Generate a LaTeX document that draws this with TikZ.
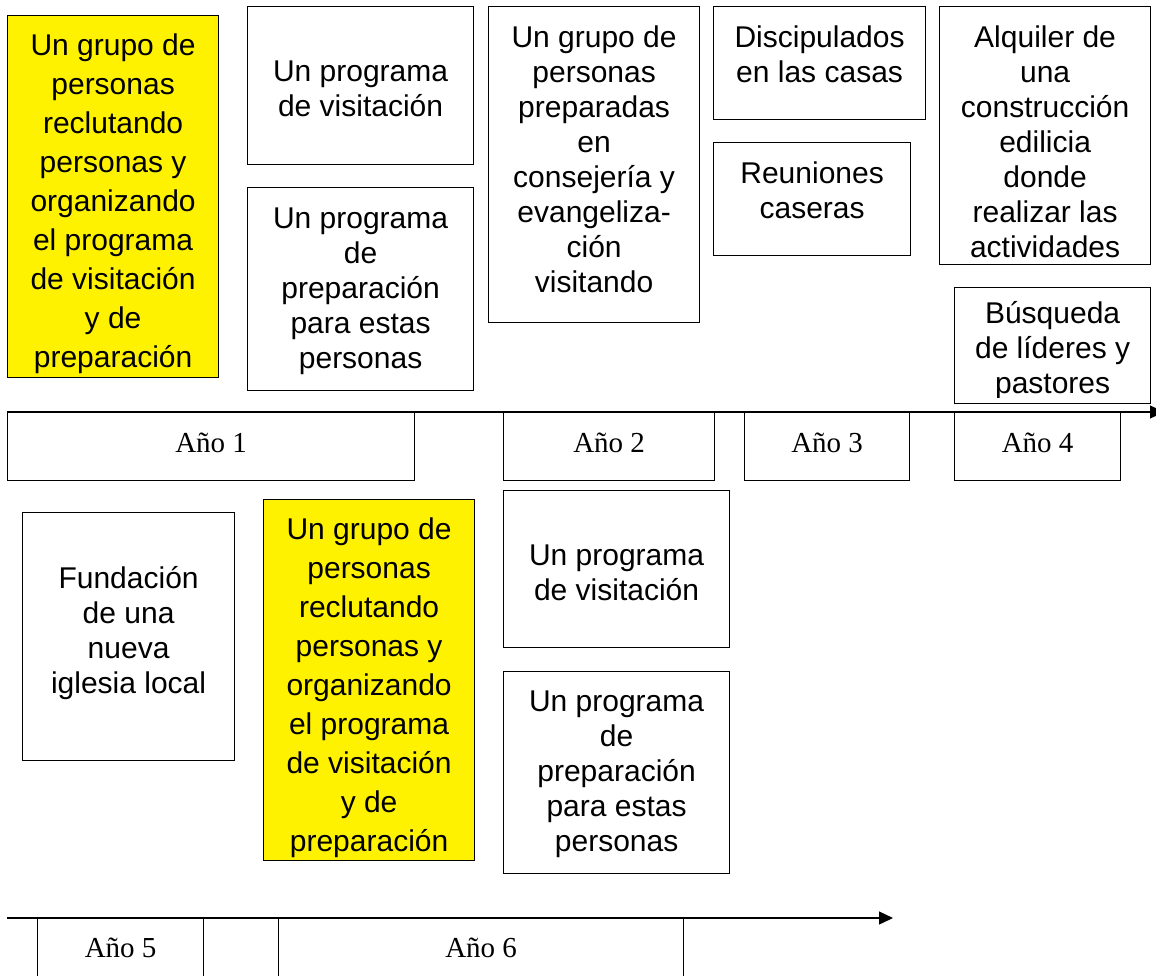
\documentclass[tikz,border=0pt]{standalone}
\usepackage{fontspec}
\setmainfont{Liberation Sans}
\newfontfamily\timesfont{Liberation Serif}
\usetikzlibrary{positioning,arrows.meta}

\begin{document}
\begin{tikzpicture}[x=1pt,y=-1pt,>={Triangle[length=14pt,width=13pt]},line width=1.2pt,
            box/.style={draw,rectangle,anchor=north west,inner sep=0pt},
            hi box/.style={box,fill=yellow},
            txt/.style={align=center,inner sep=0pt,font=\fontsize{30}{35}\selectfont},
            hi txt/.style={txt,font=\fontsize{30}{39}\selectfont},
            year/.style={inner sep=0pt,font=\timesfont\fontsize{29}{34}\selectfont}]
            \useasboundingbox (0,0) rectangle (1156,975);
            \clip (0,0) rectangle (1156,975);
            \coordinate (s1) at (7,412);
            \coordinate (e1) at (1164,412);
            \coordinate (s2) at (7,918);
            \coordinate (e2) at (893,918);
            \draw[->] (s1) -- (e1);
            \draw[->] (s2) -- (e2);
            \node[hi box, minimum width=211pt, minimum height=362pt] (1) at (7,15) {};
            \node[box, minimum width=226pt, minimum height=158pt] (2) at (247,6) {};
            \node[box, minimum width=226pt, minimum height=203pt] (3) at (247,187) {};
            \node[box, minimum width=211pt, minimum height=316pt] (4) at (488,6) {};
            \node[box, minimum width=212pt, minimum height=113pt] (5) at (713,6) {};
            \node[box, minimum width=197pt, minimum height=113pt] (6) at (713,142) {};
            \node[box, minimum width=211pt, minimum height=258pt] (7) at (939,6) {};
            \node[box, minimum width=196pt, minimum height=116pt] (8) at (954,287) {};
            \node[hi txt, below=18pt of 1.north] (t1) {Un grupo de\\personas\\reclutando\\personas y\\organizando\\el programa\\de visitación\\y de\\preparación};
            \node[txt, below=54pt of 2.north] (t2) {Un programa\\de visitación};
            \node[txt, below=20pt of 3.north] (t3) {Un programa\\de\\preparación\\para estas\\personas};
            \node[txt, below=19pt of 4.north] (t4) {Un grupo de\\personas\\preparadas\\en\\consejería y\\evangeliza-\\ción\\visitando};
            \node[txt, below=19pt of 5.north] (t5) {Discipulados\\en las casas};
            \node[txt, below=19pt of 6.north] (t6) {Reuniones\\caseras};
            \node[txt, below=19pt of 7.north] (t7) {Alquiler de\\una\\construcción\\edilicia\\donde\\realizar las\\actividades};
            \begin{scope}
            \clip (8.north west) rectangle ([yshift=7pt]8.south east);
            \node[txt, below=14pt of 8.north] (t8) {Búsqueda\\de líderes y\\pastores};
            \end{scope}
            \node[box, minimum width=407pt, minimum height=68pt] (a1) at (7,412) {};
            \node[box, minimum width=211pt, minimum height=68pt] (a2) at (503,412) {};
            \node[box, minimum width=165pt, minimum height=68pt] (a3) at (744,412) {};
            \node[box, minimum width=166pt, minimum height=68pt] (a4) at (954,412) {};
            \node[year, below=20pt of a1.north] (y1) {Año 1};
            \node[year, below=20pt of a2.north] (y2) {Año 2};
            \node[year, below=20pt of a3.north] (y3) {Año 3};
            \node[year, below=20pt of a4.north] (y4) {Año 4};
            \node[box, minimum width=212pt, minimum height=248pt] (9) at (22,512) {};
            \node[hi box, minimum width=211pt, minimum height=361pt] (10) at (263,499) {};
            \node[box, minimum width=226pt, minimum height=157pt] (11) at (503,490) {};
            \node[box, minimum width=226pt, minimum height=202pt] (12) at (503,671) {};
            \node[txt, below=54pt of 9.north] (t9) {Fundación\\de una\\nueva\\iglesia local};
            \node[hi txt, below=18pt of 10.north] (t10) {Un grupo de\\personas\\reclutando\\personas y\\organizando\\el programa\\de visitación\\y de\\preparación};
            \node[txt, below=54pt of 11.north] (t11) {Un programa\\de visitación};
            \node[txt, below=19pt of 12.north] (t12) {Un programa\\de\\preparación\\para estas\\personas};
            \node[box, minimum width=166pt, minimum height=72pt] (a5) at (37,918) {};
            \node[box, minimum width=75pt, minimum height=72pt] (a0) at (203,918) {};
            \node[box, minimum width=405pt, minimum height=72pt] (a6) at (278,918) {};
            \node[year, below=19pt of a5.north] (y5) {Año 5};
            \node[year, below=19pt of a6.north] (y6) {Año 6};
        \end{tikzpicture}
\end{document}
